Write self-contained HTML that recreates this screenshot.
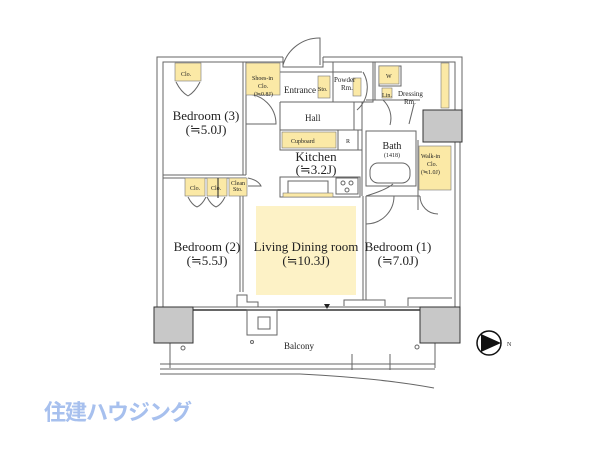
<!DOCTYPE html>
<html><head><meta charset="utf-8"><style>
html,body{margin:0;padding:0;background:#fff;width:600px;height:450px;overflow:hidden}
svg{display:block}
text{font-family:"Liberation Serif",serif;fill:#222}
.s{font-size:6px}
.m{font-size:13px}
</style></head><body>
<svg width="600" height="450" viewBox="0 0 600 450" xmlns="http://www.w3.org/2000/svg">
<g fill="none" stroke="#666" stroke-width="1">
<polyline points="283,57 157,57 157,310"/>
<polyline points="283,62 163,62 163,310"/>
<polyline points="323,57 462,57 462,110"/>
<polyline points="323,62 455,62 455,110"/>
<line x1="455" y1="142" x2="455" y2="310"/><line x1="460" y1="142" x2="460" y2="310"/>
<polyline points="283,57 283,67 323,67 323,57"/>
<path d="M283,65 A38,38 0 0 1 320,38 L320,65"/>
<line x1="243" y1="62" x2="243" y2="175"/><line x1="246" y1="62" x2="246" y2="175"/>
<line x1="163" y1="175" x2="246" y2="175"/><line x1="163" y1="178" x2="246" y2="178"/>
<path d="M176,82 q5,10 12,14 M200,82 q-5,10 -12,14"/>
<path d="M246,94 A30,30 0 0 1 276,124 L246,124"/>
<line x1="240" y1="178" x2="240" y2="292"/><line x1="243" y1="178" x2="243" y2="292"/>
<path d="M188,197 q4,8 9,10 M206,197 q-4,8 -9,10 M207,197 q4,8 9,10 M225,197 q-4,8 -9,10"/>
<path d="M248,178 q10,2 13,8 l-13,0"/>
<line x1="246" y1="72" x2="362" y2="72"/>
<line x1="280" y1="102" x2="360" y2="102"/>
<line x1="280" y1="102" x2="280" y2="150"/>
<line x1="354" y1="102" x2="354" y2="130"/>
<rect x="280" y="130" width="78" height="20"/>
<rect x="338" y="130" width="24" height="20"/>
<path d="M363,72 A30,30 0 0 1 357,110"/>
<rect x="280" y="177" width="80" height="20"/>
<rect x="288" y="181" width="40" height="13"/>
<rect x="336" y="178" width="22" height="16"/>
<circle cx="343" cy="183" r="2"/><circle cx="351" cy="183" r="2"/><circle cx="347" cy="190" r="2"/>
<rect x="366" y="131" width="50" height="55"/>
<rect x="370" y="163" width="40" height="20" rx="8"/>
<line x1="362" y1="102" x2="362" y2="196"/>
<line x1="366" y1="100" x2="420" y2="100"/>
<path d="M414,104 l-5,20"/>
<rect x="333" y="62" width="40" height="40"/>
<line x1="375" y1="62" x2="375" y2="100"/>
<rect x="379" y="66" width="22" height="20"/>
<path d="M383,100 A25,25 0 0 1 390,125" />
<line x1="363" y1="196" x2="363" y2="300"/><line x1="366" y1="196" x2="366" y2="300"/>
<line x1="366" y1="196" x2="420" y2="196"/>
<path d="M366,196 q20,-6 27,-12 M366,224 A28,28 0 0 0 394,196"/>
<path d="M420,196 A18,18 0 0 0 438,214" />
<line x1="418" y1="140" x2="418" y2="210"/>
<line x1="160" y1="310" x2="458" y2="310" stroke="#333" stroke-width="1.5"/>
<line x1="160" y1="307" x2="458" y2="307"/>
<polyline points="237,307 237,295 247,295 247,302 258,302 258,307"/>
<rect x="247" y="310" width="30" height="25"/>
<rect x="258" y="317" width="12" height="12"/>
<polyline points="344,306 344,300 385,300 385,306"/>
<polyline points="408,306 408,298 452,298"/>
<line x1="170" y1="343" x2="170" y2="368"/><line x1="435" y1="343" x2="435" y2="368"/>
<line x1="160" y1="364" x2="435" y2="364"/>
<line x1="160" y1="369" x2="435" y2="369"/>
<line x1="160" y1="374" x2="300" y2="374"/>
<path d="M300,374 Q380,378 434,388"/>
<line x1="352" y1="354" x2="352" y2="370"/><line x1="390" y1="354" x2="390" y2="370"/>
<circle cx="183" cy="348" r="2"/><circle cx="252" cy="342" r="1.5"/><circle cx="417" cy="347" r="2"/>
</g>
<g fill="#fbe9a6" stroke="#777" stroke-width="0.6">
<rect x="175" y="63" width="26" height="18"/>
<rect x="246" y="63" width="34" height="32"/>
<rect x="318" y="76" width="12" height="22"/>
<rect x="353" y="78" width="8" height="18"/>
<rect x="379" y="66" width="20" height="18"/>
<rect x="382" y="88" width="10" height="10"/>
<rect x="441" y="63" width="8" height="45"/>
<rect x="282" y="132" width="54" height="16"/>
<rect x="419" y="146" width="32" height="44"/>
<rect x="185" y="178" width="20" height="18"/>
<rect x="207" y="178" width="20" height="18"/>
<rect x="229" y="178" width="18" height="18"/>
<rect x="283" y="193" width="50" height="4"/>
<rect x="256" y="206" width="100" height="89" stroke="none" fill="#fdf2c6"/>
</g>
<line x1="218" y1="178" x2="218" y2="198" stroke="#222"/>
<g fill="#c8c8c8" stroke="#333">
<rect x="423" y="110" width="39" height="32"/>
<rect x="154" y="307" width="39" height="36"/>
<rect x="420" y="307" width="40" height="36"/>
</g>
<path d="M324,304 l6,0 l-3,5z" fill="#222"/>
<text class="s" x="181" y="76">Clo.</text>
<text class="s" x="252" y="80">Shoes-in</text>
<text class="s" x="258" y="88">Clo.</text>
<text class="s" x="254" y="96">(≒0.8J)</text>
<text x="284" y="93" font-size="9">Entrance</text>
<text class="s" x="318" y="91">Sto.</text>
<text x="334" y="82" font-size="7">Powder</text>
<text x="341" y="90" font-size="7">Rm.</text>
<text class="s" x="386" y="78">W</text>
<text x="398" y="96" font-size="7">Dressing</text>
<text x="404" y="104" font-size="7">Rm.</text>
<text class="s" x="382" y="97">Lin.</text>
<text x="305" y="121" font-size="9">Hall</text>
<text class="s" x="291" y="143">Cupboard</text>
<text class="s" x="346" y="143">R</text>
<text class="m" x="206" y="120" text-anchor="middle">Bedroom (3)</text>
<text class="m" x="206" y="134" text-anchor="middle">(≒5.0J)</text>
<text class="m" x="316" y="161" text-anchor="middle">Kitchen</text>
<text class="m" x="316" y="174" text-anchor="middle">(≒3.2J)</text>
<text x="392" y="149" font-size="10" text-anchor="middle">Bath</text>
<text class="s" x="392" y="157" text-anchor="middle">(1418)</text>
<text class="s" x="421" y="158">Walk-in</text>
<text class="s" x="427" y="166">Clo.</text>
<text class="s" x="421" y="174">(≒1.0J)</text>
<text class="s" x="190" y="190">Clo.</text>
<text class="s" x="211" y="190">Clo.</text>
<text class="s" x="231" y="185">Clean</text>
<text class="s" x="233" y="191">Sto.</text>
<text class="m" x="207" y="251" text-anchor="middle">Bedroom (2)</text>
<text class="m" x="207" y="265" text-anchor="middle">(≒5.5J)</text>
<text class="m" x="306" y="251" text-anchor="middle">Living Dining room</text>
<text class="m" x="306" y="265" text-anchor="middle">(≒10.3J)</text>
<text class="m" x="398" y="251" text-anchor="middle">Bedroom (1)</text>
<text class="m" x="398" y="265" text-anchor="middle">(≒7.0J)</text>
<text x="299" y="349" font-size="9" text-anchor="middle">Balcony</text>
<circle cx="489" cy="343" r="12" fill="#fff" stroke="#111" stroke-width="1.5"/>
<path d="M481,334 L501,343 L481,352z" fill="#111"/>
<text x="507" y="346" font-size="6" font-family="Liberation Sans,sans-serif">N</text>
<text x="44" y="420" font-size="22" font-weight="bold" style="font-family:'Liberation Sans','Noto Sans CJK JP',sans-serif;fill:#a7c0ee" letter-spacing="-1">住建ハウジング</text>
</svg>
</body></html>
